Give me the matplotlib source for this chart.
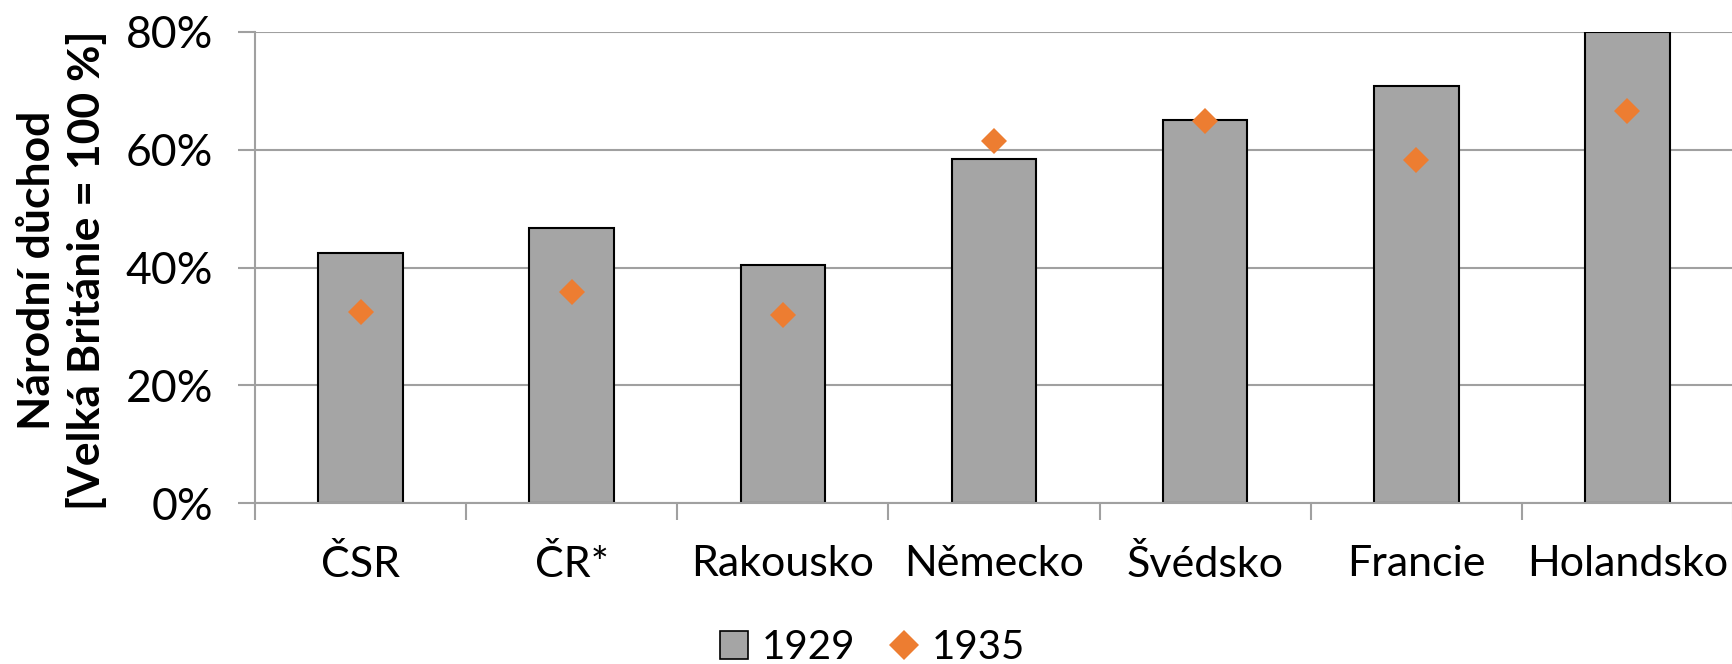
import numpy as np
import matplotlib
matplotlib.use("Agg")
from matplotlib import pyplot as plt
from matplotlib.lines import Line2D
from matplotlib.ticker import PercentFormatter

# Data
zeme = ["ČSR", "ČR*", "Rakousko", "Německo", "Švédsko", "Francie", "Holandsko"]
duchod_1929 = [42.5, 46.7, 40.5, 58.4, 65.0, 70.9, 80.0]
duchod_1935 = [32.5, 35.8, 32.0, 61.5, 64.8, 58.3, 66.5]
y_ticks = [0, 20, 40, 60, 80]

# Styles
barva_1929 = "#A5A5A5"
barva_1935 = "#ED7D31"
barva_mrizky = "#A0A0A0"

plt.rcParams["font.family"] = ["Lato", "DejaVu Sans"]

fig = plt.figure(figsize=(17.33, 6.64), dpi=100)
ax = fig.add_axes([255 / 1733, 1 - 503 / 664, 1478 / 1733, (503 - 32) / 664])

x = np.arange(len(zeme))
ax.bar(x, duchod_1929, width=0.4, color=barva_1929, edgecolor="black", linewidth=1.5, zorder=2)
ax.plot(x, duchod_1935, linestyle="none", marker="D", markersize=13.5,
        color=barva_1935, markeredgewidth=0, zorder=3)

ax.set_xlim(-0.5, len(zeme) - 0.5)
ax.set_ylim(0, 80)
ax.set_yticks(y_ticks)
ax.yaxis.set_major_formatter(PercentFormatter(decimals=0))
ax.grid(axis="y", color=barva_mrizky, linewidth=1.5, zorder=0)

ax.set_xticks(x)
ax.set_xticklabels(zeme)
ax.set_xticks(np.arange(-0.5, len(zeme)), minor=True)
ax.tick_params(axis="x", which="major", length=0, pad=30, labelsize=31)
ax.tick_params(axis="x", which="minor", length=12, width=1.5, color=barva_mrizky)
ax.tick_params(axis="y", length=12, width=1.5, color=barva_mrizky, pad=18, labelsize=32)

for s in ["top", "right"]:
    ax.spines[s].set_visible(False)
ax.spines["left"].set_color(barva_mrizky)
ax.spines["left"].set_linewidth(1.5)
ax.spines["bottom"].set_color(barva_mrizky)
ax.spines["bottom"].set_linewidth(1.5)

fig.text(62 / 1733, 1 - 270 / 664, "Národní důchod\n[Velká Británie = 100 %]",
         rotation=90, ha="center", va="center", multialignment="center",
         fontsize=32, fontweight="bold", linespacing=1.25)

handles = [
    Line2D([], [], linestyle="none", marker="s", markersize=20,
           markerfacecolor=barva_1929, markeredgecolor="black", markeredgewidth=1.2),
    Line2D([], [], linestyle="none", marker="D", markersize=15,
           markerfacecolor=barva_1935, markeredgewidth=0),
]
fig.legend(handles, ["1929", "1935"], loc="center", bbox_to_anchor=(0.503, 0.025),
           ncol=2, frameon=False, fontsize=29, handlelength=0.8,
           handletextpad=0.3, columnspacing=0.8)

fig.savefig("out.png", dpi=100)
